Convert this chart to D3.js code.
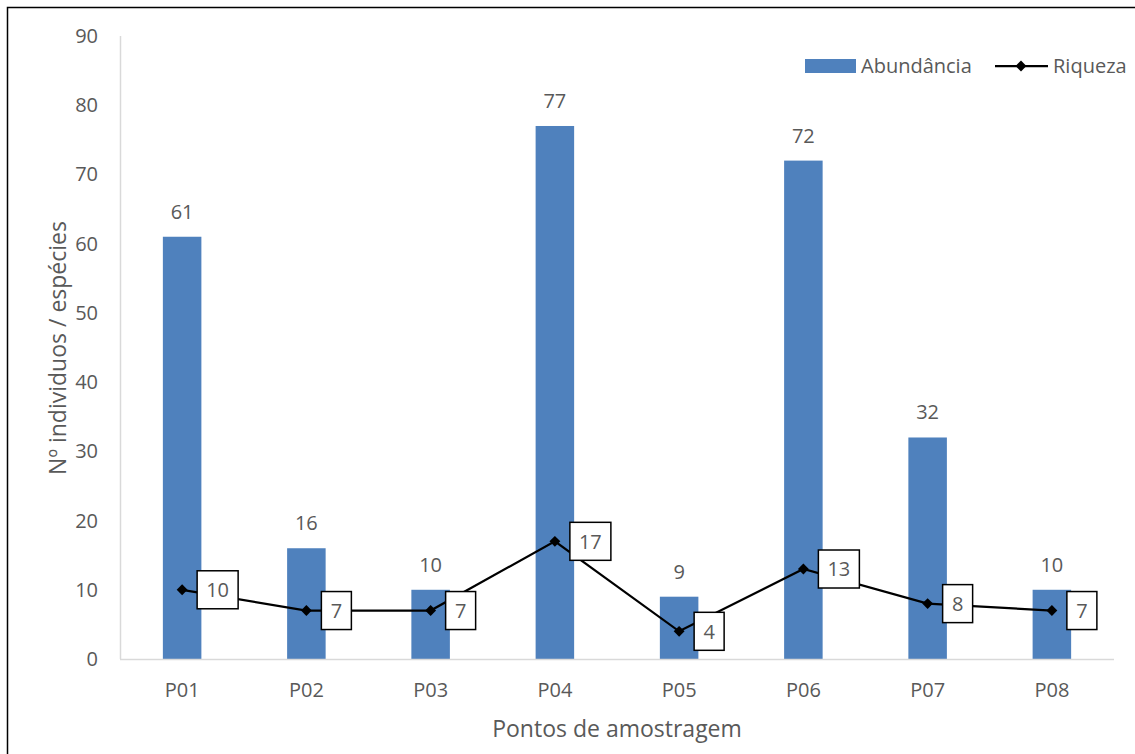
<!DOCTYPE html>
<html>
<head>
<meta charset="utf-8">
<script src="https://cdn.jsdelivr.net/npm/d3@7"></script>
<style>
  html, body { margin: 0; padding: 0; background: #fff; }
  svg { display: block; }
  text { font-family: "Open Sans", "Noto Sans", sans-serif; fill: #595959; }
</style>
</head>
<body>
<svg id="chart" width="1135" height="754"></svg>
<script>
// Sampling points and counts
const categories = ["P01", "P02", "P03", "P04", "P05", "P06", "P07", "P08"];
const abundancia = [61, 16, 10, 77, 9, 72, 32, 10];
const riqueza = [10, 7, 7, 17, 4, 13, 8, 7];
const yTicks = [0, 10, 20, 30, 40, 50, 60, 70, 80, 90];

const svg = d3.select("#chart");
const W = 1135, H = 754;
const plot = { left: 120, right: 1114, top: 36, bottom: 659 };
const fs = "20px";

// Outer frame of the chart area
svg.append("rect")
  .attr("x", 7.5).attr("y", 7.5)
  .attr("width", W + 20).attr("height", H + 20)
  .attr("fill", "none").attr("stroke", "#000").attr("stroke-width", 1.5);

const x = d3.scaleBand().domain(categories).range([plot.left, plot.right]).paddingInner(0.69).paddingOuter(0.345);
const y = d3.scaleLinear().domain([0, 90]).range([plot.bottom, plot.top]);
const cx = d => x(d) + x.bandwidth() / 2;

// Axes lines
svg.append("line")
  .attr("x1", plot.left + 0.5).attr("x2", plot.left + 0.5)
  .attr("y1", plot.top).attr("y2", plot.bottom)
  .attr("stroke", "#d9d9d9").attr("stroke-width", 1.5);

// Y tick labels
svg.append("g").selectAll("text").data(yTicks).join("text")
  .attr("x", 98).attr("y", d => y(d))
  .attr("dy", "0.35em")
  .attr("text-anchor", "end")
  .style("font-size", fs)
  .text(d => d);

// Bars
svg.append("g").selectAll("rect").data(abundancia).join("rect")
  .attr("x", (d, i) => x(categories[i]))
  .attr("width", x.bandwidth())
  .attr("y", d => y(d))
  .attr("height", d => y(0) - y(d))
  .attr("fill", "#4f81bd");

svg.append("line")
  .attr("x1", plot.left).attr("x2", plot.right)
  .attr("y1", plot.bottom + 0.5).attr("y2", plot.bottom + 0.5)
  .attr("stroke", "#d9d9d9").attr("stroke-width", 1.5);

// Bar value labels
svg.append("g").selectAll("text").data(abundancia).join("text")
  .attr("x", (d, i) => cx(categories[i]))
  .attr("y", d => y(d) - 18)
  .attr("text-anchor", "middle")
  .style("font-size", fs)
  .text(d => d);

// X tick labels
svg.append("g").selectAll("text").data(categories).join("text")
  .attr("x", d => cx(d))
  .attr("y", 697)
  .attr("text-anchor", "middle")
  .style("font-size", fs)
  .text(d => d);

// Riqueza line
const line = d3.line().x((d, i) => cx(categories[i])).y(d => y(d));
svg.append("path").datum(riqueza)
  .attr("d", line).attr("fill", "none")
  .attr("stroke", "#000").attr("stroke-width", 2.25);

const diamond = d3.symbol().type(d3.symbolDiamond2).size(75);
svg.append("g").selectAll("path").data(riqueza).join("path")
  .attr("d", diamond)
  .attr("transform", (d, i) => `translate(${cx(categories[i])},${y(d)})`)
  .attr("fill", "#000");

// Boxed value labels for Riqueza
const boxW = d => String(d).length > 1 ? 41 : 30;
const lab = svg.append("g").selectAll("g").data(riqueza).join("g")
  .attr("transform", (d, i) => `translate(${cx(categories[i]) + 15},${y(d)})`);
lab.append("rect")
  .attr("x", 0).attr("y", -19)
  .attr("width", boxW)
  .attr("height", 38)
  .attr("fill", "#fff").attr("stroke", "#000").attr("stroke-width", 1.5);
lab.append("text")
  .attr("x", d => boxW(d) / 2)
  .attr("y", 0).attr("dy", "0.36em")
  .attr("text-anchor", "middle")
  .style("font-size", fs)
  .text(d => d);

// Axis titles
svg.append("text")
  .attr("x", 617).attr("y", 737)
  .attr("text-anchor", "middle")
  .style("font-size", "23px")
  .text("Pontos de amostragem");
svg.append("text")
  .attr("transform", "translate(66,348) rotate(-90)")
  .attr("text-anchor", "middle")
  .style("font-size", "23px")
  .text("Nº individuos / espécies");

// Legend
const lg = svg.append("g");
lg.append("rect").attr("x", 805).attr("y", 59).attr("width", 51).attr("height", 14).attr("fill", "#4f81bd");
lg.append("text").attr("x", 861).attr("y", 66).attr("dy", "0.35em").style("font-size", fs).text("Abundância");
lg.append("line").attr("x1", 995).attr("x2", 1048).attr("y1", 66).attr("y2", 66).attr("stroke", "#000").attr("stroke-width", 2.25);
lg.append("path").attr("d", diamond).attr("transform", "translate(1021,66)").attr("fill", "#000");
lg.append("text").attr("x", 1053).attr("y", 66).attr("dy", "0.35em").style("font-size", fs).text("Riqueza");
</script>
</body>
</html>
